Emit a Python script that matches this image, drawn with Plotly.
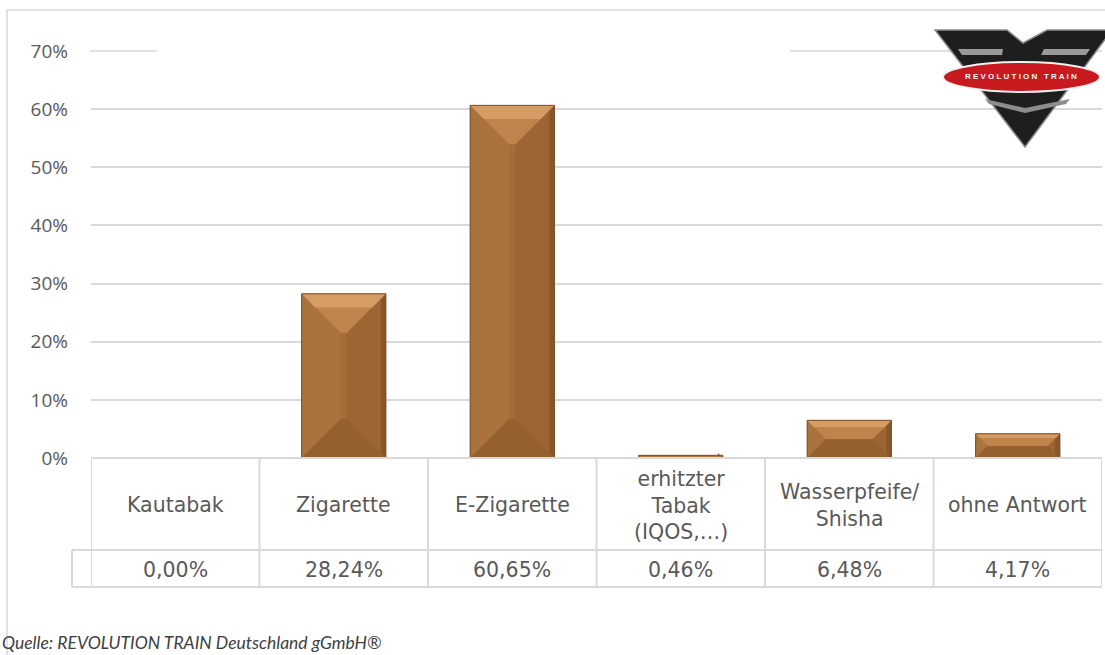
import plotly.graph_objects as go

# ---------------- data ----------------
categories = ["Kautabak", "Zigarette", "E-Zigarette", "erhitzter<br>Tabak<br>(IQOS,…)",
              "Wasserpfeife/<br>Shisha", "ohne Antwort"]
values = [0.0, 0.2824, 0.6065, 0.0046, 0.0648, 0.0417]
value_labels = ["0,00%", "28,24%", "60,65%", "0,46%", "6,48%", "4,17%"]
y_ticks = [0, 0.1, 0.2, 0.3, 0.4, 0.5, 0.6, 0.7]
y_tick_labels = ["0%", "10%", "20%", "30%", "40%", "50%", "60%", "70%"]
source_text = "Quelle: REVOLUTION TRAIN Deutschland gGmbH®"

# ---------------- layout constants ----------------
FW, FH = 1105, 655
L, T = 91, 51
W, PH = 1011, 407
R = FW - L - W
B = FH - T - PH
YMAX = 0.7
BAR_W = 0.5
GRID = "#D9D9D9"
TXT = "#595959"


def xp(px):
    return (px - L) / W


def yp(py):
    return (T + PH - py) / PH


n = len(categories)
xs = list(range(n))
px_per_x = W / n
px_per_y = PH / YMAX

fig = go.Figure()

# base bars
fig.add_trace(go.Bar(x=xs, y=values, width=BAR_W,
                     marker=dict(color="#A56C37", line=dict(width=0)),
                     hoverinfo="skip", showlegend=False))

# bevel facets computed from the values
face = {"left": [], "right": [], "top": [], "top_hi": [], "bottom": [], "right_edge": []}
for i, v in enumerate(values):
    if v <= 0:
        continue
    hpx = v * px_per_y
    d = min(39.0, hpx / 2.0)
    dx = d / px_per_x
    dy = d / px_per_y
    x0, x1 = i - BAR_W / 2, i + BAR_W / 2
    face["left"].append([(x0, 0), (x0, v), (x0 + dx, v - dy), (x0 + dx, dy)])
    face["right"].append([(x1, 0), (x1, v), (x1 - dx, v - dy), (x1 - dx, dy)])
    face["top"].append([(x0, v), (x1, v), (x1 - dx, v - dy), (x0 + dx, v - dy)])
    t = 0.35
    face["top_hi"].append([(x0, v), (x1, v), (x1 - dx * t, v - dy * t), (x0 + dx * t, v - dy * t)])
    face["bottom"].append([(x0, 0), (x1, 0), (x1 - dx, dy), (x0 + dx, dy)])
    ew = 5 / px_per_x
    off = dy * ew / dx if dx else 0
    face["right_edge"].append([(x1 - ew, off), (x1, 0), (x1, v), (x1 - ew, v - off)])

facet_colors = {"left": "#AA723C", "right": "#9C6533", "top": "#BF844C",
                "top_hi": "#D59C64", "bottom": "#94602F", "right_edge": "#87572A"}
for key in ["left", "right", "right_edge", "top", "top_hi", "bottom"]:
    px_, py_ = [], []
    for poly in face[key]:
        for (a, b) in poly + [poly[0]]:
            px_.append(a)
            py_.append(b)
        px_.append(None)
        py_.append(None)
    fig.add_trace(go.Scatter(x=px_, y=py_, mode="lines", fill="toself",
                             fillcolor=facet_colors[key], line=dict(width=0),
                             hoverinfo="skip", showlegend=False))

# bar outlines on top
outline_x, outline_y = [], []
for i, v in enumerate(values):
    if v <= 0:
        continue
    x0, x1 = i - BAR_W / 2, i + BAR_W / 2
    outline_x += [x0, x0, x1, x1, x0, None]
    outline_y += [0, v, v, 0, 0, None]
fig.add_trace(go.Scatter(x=outline_x, y=outline_y, mode="lines",
                         line=dict(color="#7A4E25", width=1),
                         hoverinfo="skip", showlegend=False))

shapes = []
annotations = []

# top (70%) gridline, interrupted in the title area
for a, b in [(90, 157), (790, 1102)]:
    shapes.append(dict(type="line", xref="paper", yref="paper", x0=xp(a), x1=xp(b),
                       y0=1.0, y1=1.0, line=dict(color=GRID, width=1.5), layer="below"))

# table lines
line = dict(color=GRID, width=2)
row1_bot = 550
row2_bot = 587
shapes.append(dict(type="line", xref="paper", yref="paper", x0=xp(91), x1=xp(1102),
                   y0=yp(458), y1=yp(458), line=line))
shapes.append(dict(type="line", xref="paper", yref="paper", x0=xp(72), x1=xp(1102),
                   y0=yp(row1_bot), y1=yp(row1_bot), line=line))
shapes.append(dict(type="line", xref="paper", yref="paper", x0=xp(72), x1=xp(1102),
                   y0=yp(row2_bot), y1=yp(row2_bot), line=line))
shapes.append(dict(type="line", xref="paper", yref="paper", x0=xp(72), x1=xp(72),
                   y0=yp(row1_bot), y1=yp(row2_bot), line=line))
for k in range(n + 1):
    xb = k - 0.5
    shapes.append(dict(type="line", xref="x", yref="paper", x0=xb, x1=xb,
                       y0=yp(458), y1=yp(row2_bot), line=line))

# table texts
for i, (c, lab) in enumerate(zip(categories, value_labels)):
    annotations.append(dict(x=i, y=yp((458 + row1_bot) / 2 + 1), xref="x", yref="paper",
                            text=c, showarrow=False, xanchor="center", yanchor="middle",
                            font=dict(family="DejaVu Sans", size=20.5, color=TXT)))
    annotations.append(dict(x=i, y=yp((row1_bot + row2_bot) / 2 + 1), xref="x", yref="paper",
                            text=lab, showarrow=False, xanchor="center", yanchor="middle",
                            font=dict(family="DejaVu Sans", size=20.5, color=TXT)))

# outer border
shapes.append(dict(type="rect", xref="paper", yref="paper", x0=xp(7), x1=xp(1112),
                   y0=yp(10), y1=yp(670), line=dict(color=GRID, width=1.5),
                   fillcolor="rgba(0,0,0,0)", layer="below"))


# logo
def P(pts):
    return "M " + " L ".join(f"{xp(a):.5f},{yp(b):.5f}" for a, b in pts) + " Z"


shapes.append(dict(type="path", xref="paper", yref="paper",
                   path=P([(935, 30), (1007, 30), (1023, 43), (1047, 30), (1112, 30), (1025, 147)]),
                   fillcolor="#1E1E1E", line=dict(color="#8C8C8C", width=1.5), layer="above"))
shapes.append(dict(type="path", xref="paper", yref="paper",
                   path=P([(958, 49), (1003, 49), (1002, 55), (962, 55)]),
                   fillcolor="#9A9A9A", line=dict(width=0), layer="above"))
shapes.append(dict(type="path", xref="paper", yref="paper",
                   path=P([(1044, 49), (1090, 49), (1086, 55), (1041, 55)]),
                   fillcolor="#9A9A9A", line=dict(width=0), layer="above"))
shapes.append(dict(type="path", xref="paper", yref="paper",
                   path=P([(985, 99), (1025, 108), (1070, 99), (1066, 104), (1025, 113), (989, 104)]),
                   fillcolor="#8C8C8C", line=dict(width=0), layer="above"))
shapes.append(dict(type="circle", xref="paper", yref="paper",
                   x0=xp(943), x1=xp(1100), y0=yp(62), y1=yp(92),
                   fillcolor="#C8191F", line=dict(color="#F0F0F0", width=2), layer="above"))
annotations.append(dict(x=xp(1021), y=yp(77), xref="paper", yref="paper",
                        text="<b>R E V O L U T I O N   T R A I N</b>", showarrow=False,
                        xanchor="center", yanchor="middle",
                        font=dict(family="Liberation Sans", size=8, color="#F4F4F4")))

# source text
annotations.append(dict(x=xp(0), y=yp(642), xref="paper", yref="paper",
                        text="<i>" + source_text + "</i>", showarrow=False,
                        xanchor="left", yanchor="middle",
                        font=dict(family="Lato", size=17.5, color="#404040")))

fig.update_layout(
    width=FW, height=FH,
    margin=dict(l=L, r=R, t=T, b=B, pad=0),
    paper_bgcolor="white", plot_bgcolor="white",
    shapes=shapes, annotations=annotations,
    showlegend=False, bargap=0.5,
)
fig.update_xaxes(range=[-0.5, n - 0.5], showgrid=False, showticklabels=False,
                 zeroline=False, showline=False, fixedrange=True)
fig.update_yaxes(range=[0, YMAX], tickvals=y_ticks, ticktext=y_tick_labels,
                 showgrid=True, gridcolor=GRID, gridwidth=1.5, zeroline=False,
                 showline=False, ticks="", ticklabelstandoff=22,
                 tickfont=dict(family="Open Sans", size=19, color=TXT), fixedrange=True)

fig.write_html("out.html", config={"displayModeBar": False},
               post_script="document.body.style.margin='0';document.body.style.overflow='hidden';")
